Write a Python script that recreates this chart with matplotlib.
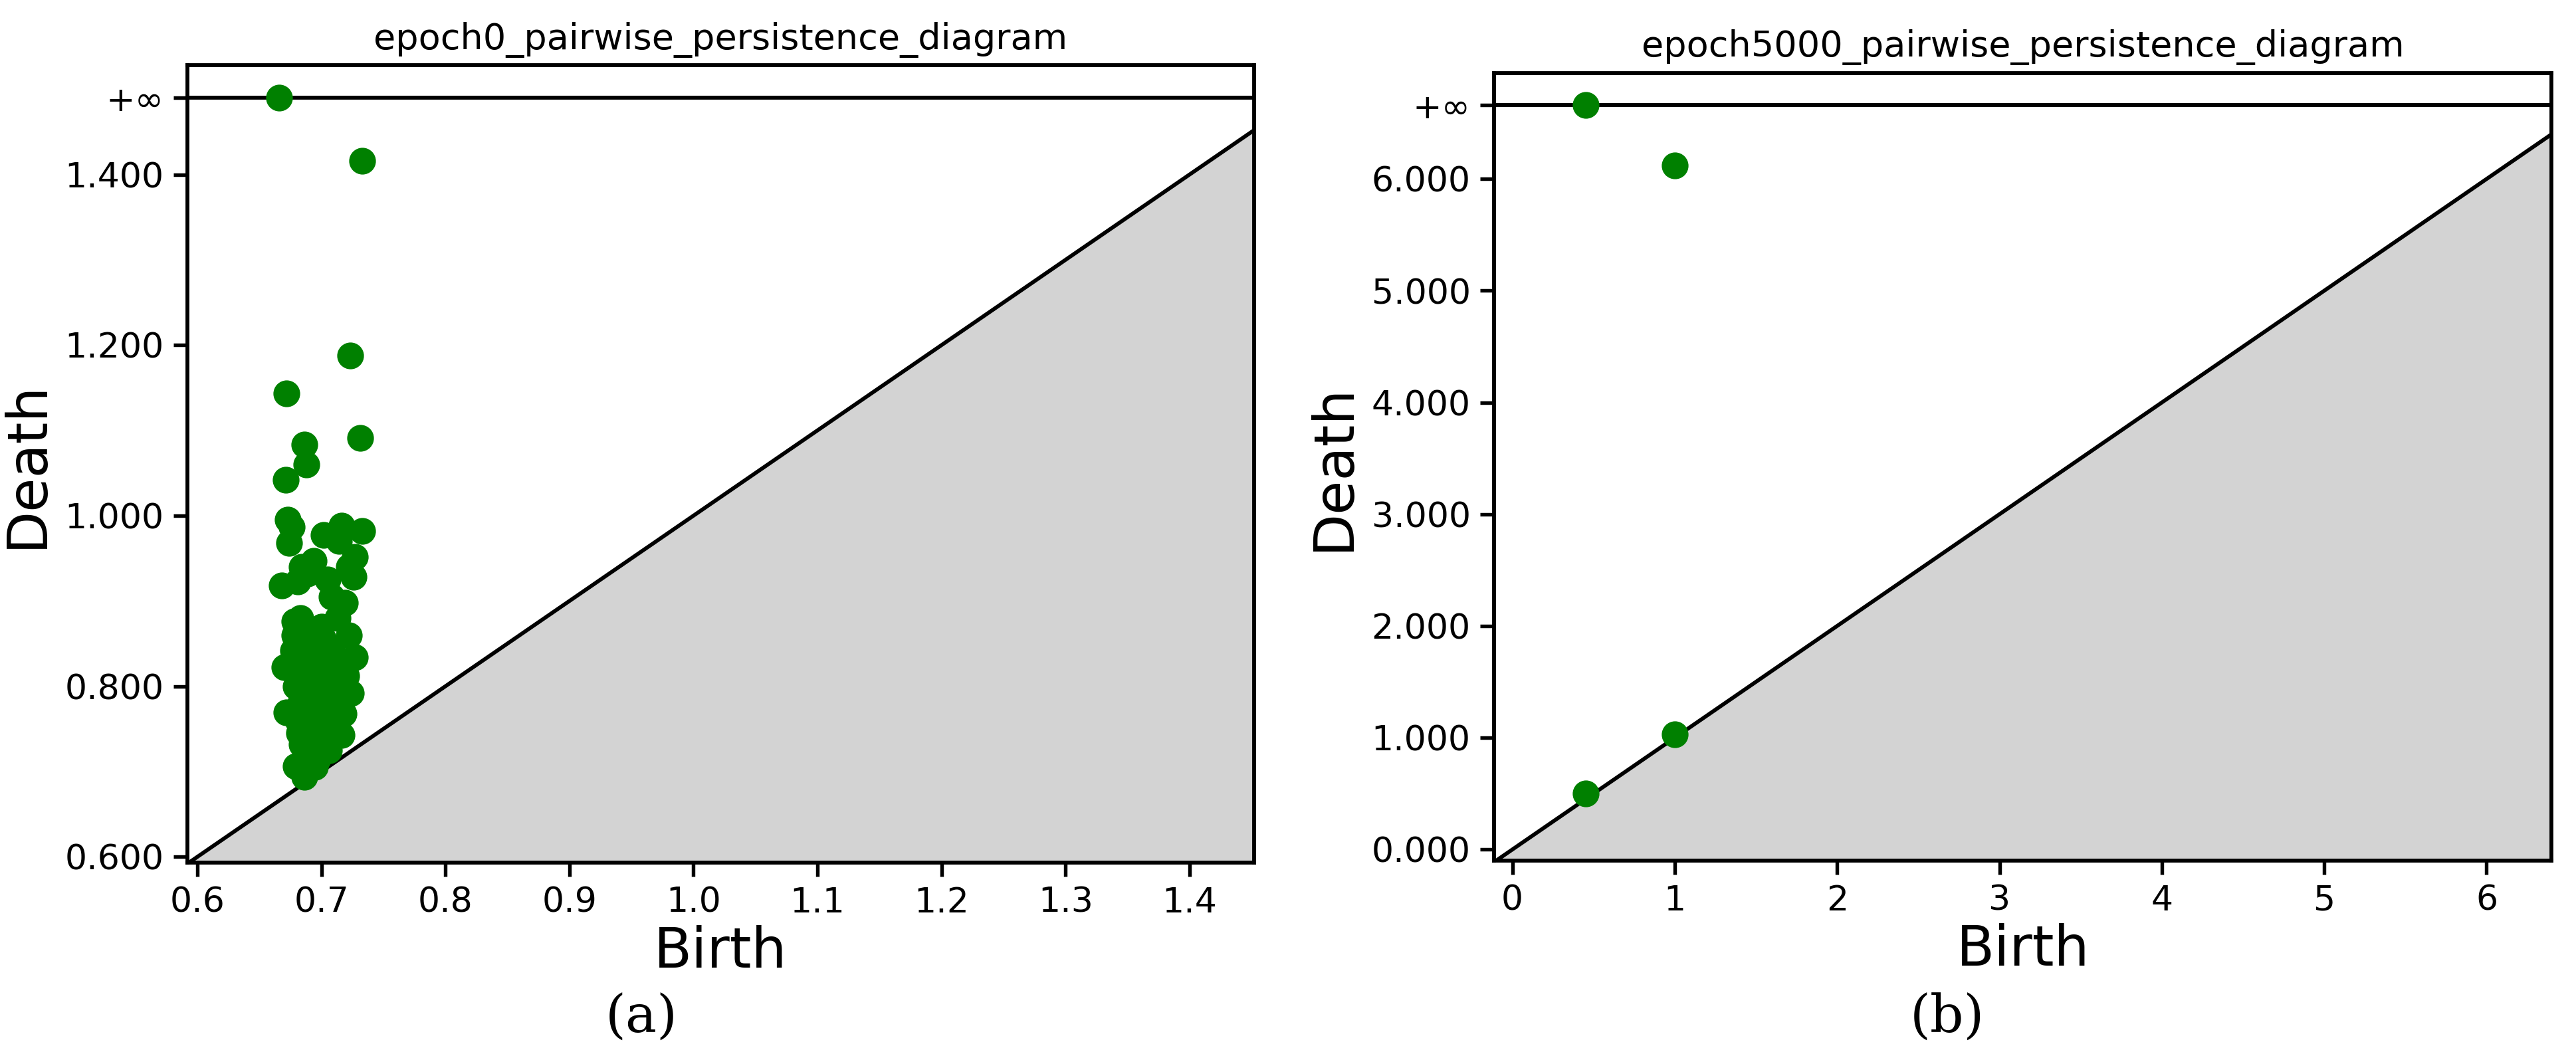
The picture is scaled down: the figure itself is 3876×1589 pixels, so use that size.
import matplotlib
matplotlib.use("Agg")
import matplotlib.pyplot as plt
import numpy as np

INF = float("inf")

# panel (a): epoch 0 pairs (birth, death)
births_a = [0.666, 0.733, 0.723, 0.672, 0.686, 0.688, 0.671, 0.731, 0.673, 0.676,
            0.674, 0.716, 0.733, 0.702, 0.714, 0.727, 0.722, 0.694, 0.684, 0.689,
            0.668, 0.705, 0.726, 0.681, 0.708, 0.719, 0.683, 0.678, 0.713, 0.689,
            0.700, 0.722, 0.681, 0.727, 0.670, 0.724, 0.718, 0.672, 0.716, 0.679,
            0.686, 0.695, 0.677, 0.680, 0.685, 0.690, 0.693, 0.697, 0.701, 0.704,
            0.707, 0.711, 0.682, 0.687, 0.692, 0.698, 0.703, 0.709, 0.712, 0.679,
            0.684, 0.688, 0.691, 0.696, 0.699, 0.706, 0.710, 0.683, 0.687, 0.693,
            0.697, 0.702, 0.708, 0.714, 0.681, 0.685, 0.690, 0.694, 0.700, 0.705,
            0.682, 0.686, 0.691, 0.696, 0.701, 0.684, 0.689, 0.693, 0.698, 0.703,
            0.688, 0.692, 0.697, 0.706, 0.720, 0.715, 0.710, 0.717, 0.712, 0.678]
deaths_a = [INF, 1.416, 1.188, 1.143, 1.083, 1.060, 1.042, 1.091, 0.995, 0.987,
            0.968, 0.988, 0.982, 0.977, 0.970, 0.952, 0.940, 0.947, 0.940, 0.932,
            0.918, 0.925, 0.928, 0.923, 0.905, 0.898, 0.880, 0.876, 0.880, 0.865,
            0.870, 0.860, 0.850, 0.834, 0.822, 0.792, 0.768, 0.769, 0.743, 0.706,
            0.694, 0.705, 0.842, 0.835, 0.828, 0.845, 0.838, 0.850, 0.856, 0.846,
            0.840, 0.835, 0.815, 0.820, 0.812, 0.825, 0.818, 0.822, 0.810, 0.800,
            0.796, 0.805, 0.792, 0.800, 0.795, 0.804, 0.790, 0.780, 0.775, 0.782,
            0.776, 0.785, 0.778, 0.788, 0.760, 0.765, 0.758, 0.768, 0.762, 0.770,
            0.745, 0.750, 0.742, 0.752, 0.748, 0.732, 0.738, 0.728, 0.735, 0.740,
            0.718, 0.722, 0.715, 0.725, 0.812, 0.803, 0.755, 0.820, 0.770, 0.860]

# panel (b): epoch 5000 pairs
births_b = [0.45, 1.0, 1.0, 0.45]
deaths_b = [INF, 6.12, 1.03, 0.50]

titles = ["epoch0_pairwise_persistence_diagram", "epoch5000_pairwise_persistence_diagram"]
xticks_a = [0.6, 0.7, 0.8, 0.9, 1.0, 1.1, 1.2, 1.3, 1.4]
yticks_a = [0.6, 0.8, 1.0, 1.2, 1.4]
xticks_b = [0, 1, 2, 3, 4, 5, 6]
yticks_b = [0, 1, 2, 3, 4, 5, 6]


def draw_diagram(ax, births, deaths, xlim, ylim, inf_y, xticks, yticks, title):
    b = np.array(births)
    d = np.array([inf_y if v == INF else v for v in deaths])
    x = np.array(xlim)
    ax.fill_between(x, ylim[0], x, color="lightgrey", zorder=1)
    ax.plot(x, x, color="black", linewidth=1.4, zorder=2)
    ax.axhline(inf_y, color="black", linewidth=1.4, zorder=2)
    ax.scatter(b, d, s=75, color="green", zorder=3)
    ax.set_xlim(*xlim)
    ax.set_ylim(*ylim)
    ax.set_xticks(xticks)
    ax.set_xticklabels([f"{t:g}" if isinstance(t, int) else f"{t:.1f}" for t in xticks])
    ax.set_yticks(list(yticks) + [inf_y])
    ax.set_yticklabels([f"{t:.3f}" for t in yticks] + ["+∞"])
    ax.tick_params(labelsize=12.5, width=1.3, length=5)
    for s in ax.spines.values():
        s.set_linewidth(1.4)
    ax.set_title(title, fontsize=13)
    ax.set_xlabel("Birth", fontsize=20, labelpad=2)
    ax.set_ylabel("Death", fontsize=20)


fig = plt.figure(figsize=(12.92, 5.297), dpi=300)
ax_a = fig.add_axes([0.0728, 0.183, 0.414, 0.755])
ax_b = fig.add_axes([0.580, 0.185, 0.4105, 0.746])

draw_diagram(ax_a, births_a, deaths_a, (0.592, 1.452), (0.593, 1.528), 1.490,
             xticks_a, yticks_a, titles[0])
draw_diagram(ax_b, births_b, deaths_b, (-0.113, 6.40), (-0.10, 6.95), 6.66,
             xticks_b, yticks_b, titles[1])

fig.text(0.249, 0.022, "(a)", fontsize=19, family="DejaVu Serif", ha="center")
fig.text(0.756, 0.022, "(b)", fontsize=19, family="DejaVu Serif", ha="center")

fig.savefig("out.png", dpi=300)
